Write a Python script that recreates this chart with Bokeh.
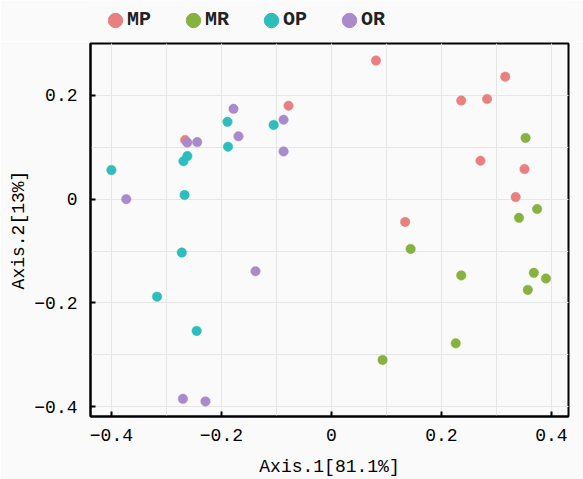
from bokeh.plotting import figure
from bokeh.layouts import column
from bokeh.models import ColumnDataSource, Legend, LegendItem, FixedTicker, Range1d
from bokeh.embed import file_html
from bokeh.resources import INLINE

groups = ["MP", "MR", "OP", "OR"]
colors = ["#E98080", "#86B33F", "#2DBDBA", "#A98ACB"]

mp_x = [-0.266, -0.078, 0.081, 0.316, 0.236, 0.283, 0.271, 0.351, 0.335, 0.134]
mp_y = [0.114, 0.180, 0.267, 0.236, 0.190, 0.193, 0.074, 0.058, 0.004, -0.044]

mr_x = [0.353, 0.374, 0.341, 0.144, 0.236, 0.368, 0.390, 0.357, 0.226, 0.093]
mr_y = [0.118, -0.019, -0.036, -0.096, -0.147, -0.142, -0.153, -0.175, -0.278, -0.310]

op_x = [-0.400, -0.262, -0.269, -0.267, -0.189, -0.188, -0.105, -0.272, -0.317, -0.245]
op_y = [0.056, 0.083, 0.073, 0.008, 0.149, 0.101, 0.143, -0.103, -0.188, -0.254]

or_x = [-0.373, -0.262, -0.244, -0.178, -0.169, -0.087, -0.087, -0.138, -0.270, -0.229]
or_y = [0.000, 0.109, 0.110, 0.174, 0.121, 0.153, 0.092, -0.139, -0.385, -0.390]

x_ticks = [-0.4, -0.2, 0.0, 0.2, 0.4]
x_tick_labels = ["\u22120.4", "\u22120.2", "0", "0.2", "0.4"]
x_minor = [-0.4, -0.3, -0.2, -0.1, 0.0, 0.1, 0.2, 0.3, 0.4]
y_ticks = [-0.4, -0.2, 0.0, 0.2]
y_tick_labels = ["\u22120.4", "\u22120.2", "0", "0.2"]
y_minor = [-0.4, -0.3, -0.2, -0.1, 0.0, 0.1, 0.2]

x_title = "Axis.1[81.1%]"
y_title = "Axis.2[13%]"

FONT = "Liberation Mono"
BG = "#fafafa"
GRID = "#e6e6e6"

series = [(mp_x, mp_y), (mr_x, mr_y), (op_x, op_y), (or_x, or_y)]

# ---- legend strip (above the plot) ----
# the strip's y range lies far from the data, so the proxy glyphs are never seen;
# they only supply the legend swatches
leg = figure(width=583, height=41, output_backend="svg", toolbar_location=None,
             x_range=Range1d(-0.438, 0.431), y_range=Range1d(10, 11),
             x_axis_type=None, y_axis_type=None,
             min_border_left=0, min_border_right=0, min_border_top=0, min_border_bottom=0,
             background_fill_color=BG, border_fill_color=BG)
leg.outline_line_color = None
leg.xgrid.visible = False
leg.ygrid.visible = False
items = []
for name, col, (xs, ys) in zip(groups, colors, series):
    r = leg.ellipse(x=xs, y=ys, width=14, height=14, width_units="screen", height_units="screen",
                    fill_color=col, line_color=col)
    items.append(LegendItem(label=name, renderers=[r]))
legend = Legend(items=items, orientation="horizontal", location=(16, 10),
                glyph_width=18, glyph_height=18, label_height=18, label_standoff=3, spacing=33,
                padding=0, margin=0,
                label_text_font=FONT, label_text_font_size="20px", label_text_font_style="bold",
                label_text_color="#222222",
                background_fill_alpha=0, border_line_alpha=0)
leg.add_layout(legend, "center")

# ---- main scatter ----
p = figure(width=583, height=438, output_backend="svg", toolbar_location=None,
           x_range=Range1d(-0.438, 0.431), y_range=Range1d(-0.419, 0.300),
           min_border_left=90, min_border_right=15, min_border_top=2, min_border_bottom=62,
           background_fill_color=BG, border_fill_color=BG)

p.outline_line_color = "black"
p.outline_line_width = 2
p.outline_line_alpha = 1

for name, col, (xs, ys) in zip(groups, colors, series):
    src = ColumnDataSource(dict(x=xs, y=ys))
    p.scatter("x", "y", source=src, size=9.5, fill_color=col, line_color=col, line_width=0.5)

for ax, ticks, labels, minor in [(p.xaxis[0], x_ticks, x_tick_labels, x_minor),
                                 (p.yaxis[0], y_ticks, y_tick_labels, y_minor)]:
    ax.ticker = FixedTicker(ticks=ticks, minor_ticks=minor)
    ax.major_label_overrides = {t: l for t, l in zip(ticks, labels)}
    ax.axis_line_color = "black"
    ax.axis_line_width = 2
    ax.major_tick_in = 5
    ax.major_tick_out = 0
    ax.major_tick_line_width = 2
    ax.major_tick_line_color = "black"
    ax.minor_tick_line_color = None
    ax.major_label_text_font = FONT
    ax.major_label_text_font_size = "18px"
    ax.major_label_text_color = "black"
    ax.axis_label_text_font = FONT
    ax.axis_label_text_font_size = "18px"
    ax.axis_label_text_font_style = "normal"
    ax.axis_label_text_color = "black"

p.xaxis.axis_label = x_title
p.yaxis.axis_label = y_title
p.xaxis.major_label_standoff = 8
p.yaxis.major_label_standoff = 9
p.xaxis.axis_label_standoff = 13
p.yaxis.axis_label_standoff = 2

for g in (p.xgrid, p.ygrid):
    g.grid_line_color = GRID
    g.grid_line_width = 1
    g.minor_grid_line_color = GRID
    g.minor_grid_line_width = 1

layout = column(leg, p, spacing=0)
open("out.html", "w").write(file_html(layout, INLINE))
